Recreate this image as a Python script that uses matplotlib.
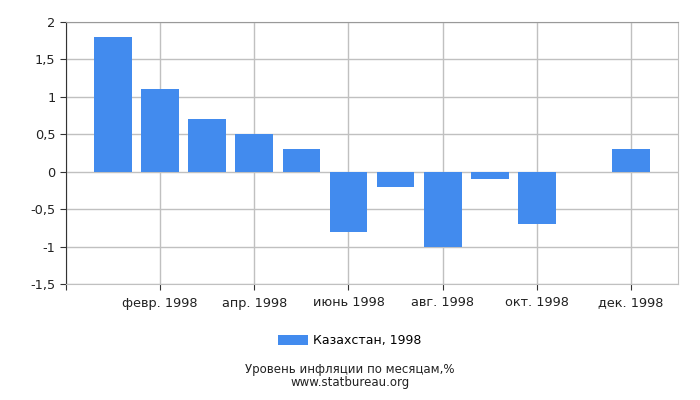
import matplotlib
matplotlib.use('Agg')
import matplotlib.pyplot as plt

months = ['янв. 1998', 'февр. 1998', 'март 1998', 'апр. 1998', 'май 1998',
          'июнь 1998', 'июль 1998', 'авг. 1998', 'сент. 1998', 'окт. 1998',
          'нояб. 1998', 'дек. 1998']
values = [1.8, 1.1, 0.7, 0.5, 0.3, -0.8, -0.2, -1.0, -0.1, -0.7, 0.0, 0.3]
y_ticks = [2, 1.5, 1, 0.5, 0, -0.5, -1, -1.5]
y_labels = ['2', '1,5', '1', '0,5', '0', '-0,5', '-1', '-1,5']

fig = plt.figure(figsize=(7, 4), dpi=100)
ax = fig.add_axes([0.094, 0.29, 0.875, 0.655])

x = list(range(len(months)))
ax.bar(x, values, width=0.8, color='#428bee', zorder=3, label='Казахстан, 1998')

ax.set_xlim(-1, 12)
ax.set_ylim(-1.5, 2)
ax.set_yticks(y_ticks)
ax.set_yticklabels(y_labels)
ax.set_xticks([-1] + x[1::2])
ax.set_xticklabels([''] + months[1::2])

ax.grid(True, color='#c0c0c0', linewidth=1, zorder=0)
ax.spines['top'].set_color('#999999')
ax.spines['right'].set_color('#c0c0c0')
ax.spines['bottom'].set_color('#c0c0c0')
ax.spines['left'].set_color('#333333')
ax.tick_params(axis='both', labelsize=9.3, color='#333333', length=4,
               colors='#222222')
ax.tick_params(axis='x', pad=5)

fig.legend(loc='center', bbox_to_anchor=(0.5, 0.148), frameon=False,
           fontsize=9, handlelength=2.4, handleheight=0.8, handletextpad=0.4)
# two caption lines in one text block
fig.text(0.5, 0.06, 'Уровень инфляции по месяцам,%\nwww.statbureau.org',
         ha='center', va='center', fontsize=8.5, linespacing=0.95,
         color='#222222')

fig.savefig('out.png', dpi=100)
